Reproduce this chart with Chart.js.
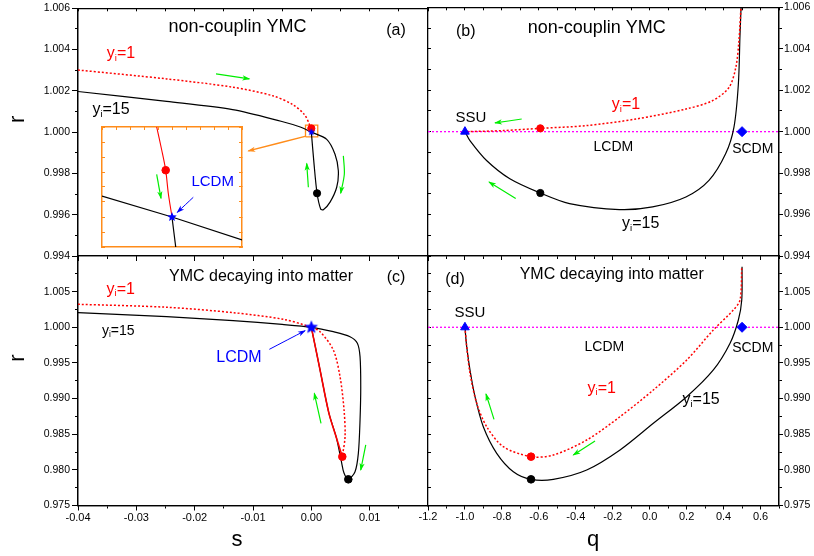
<!DOCTYPE html>
<html>
<head>
<meta charset="utf-8">
<script src="https://cdn.jsdelivr.net/npm/chart.js@4.4.1/dist/chart.umd.min.js"></script>
<style>
  html, body { margin: 0; padding: 0; background: #fff; }
  #wrap { position: relative; width: 814px; height: 556px; }
  #wrap canvas { position: absolute; left: 0; top: 0; }
</style>
</head>
<body>
<div id="wrap">
  <canvas id="cA" width="814" height="556"></canvas>
  <canvas id="cB" width="814" height="556"></canvas>
  <canvas id="cC" width="814" height="556"></canvas>
  <canvas id="cD" width="814" height="556"></canvas>
  <canvas id="cIn" width="814" height="556"></canvas>
</div>
<script>
// ---- panel (a): s vs r, non-coupling ----
const aRedS = [-0.04, -0.0248, -0.0135, -0.0066, -0.0032, -0.0012, -0.0003, 0];
const aRedR = [1.00301, 1.00258, 1.00218, 1.00176, 1.00134, 1.00086, 1.00035, 1.0];
const aBlkS = [-0.04, -0.0248, -0.0135, -0.0052, -0.0019, 0, 0.00264, 0.00406, 0.00463, 0.00435, 0.00321, 0.00206, 0.0016, 0.00098, 0.00045, 0];
const aBlkR = [1.00197, 1.00149, 1.00109, 1.00053, 1.00025, 1.0, 0.99965, 0.99893, 0.99813, 0.99733, 0.99661, 0.99624, 0.99628, 0.99704, 0.9985, 1.0];
const aDotRed = [0, 1.00018];
const aDotBlk = [0.00098, 0.99704];
const aStar = [0, 1.0];
const aBoxS = [-0.001, 0.0011, 0.0011, -0.001, -0.001];
const aBoxR = [0.99977, 0.99977, 1.00034, 1.00034, 0.99977];
const aArrows = [
  [[-0.01634, 1.00282], [-0.01063, 1.00258]],
  [[-0.00051, 0.99733], [-0.00079, 0.99848]],
  [[0.00549, 0.99885], [0.00566, 0.99797], [0.00504, 0.99704]]
];
const aZoomArrow = [[-0.00091, 0.99981], [-0.0108, 0.99909]];

// ---- inset of (a) ----
const inRedS = [-0.000219, -0.000147, -0.00009, -0.000053, 0];
const inRedR = [1.00045, 1.000335, 1.000234, 1.000119, 1.0];
const inBlkS = [-0.001, 0, 0.001];
const inBlkR = [1.000105, 1.0, 0.999885];
const inStemS = [0, 0.000053];
const inStemR = [1.0, 0.99985];
const inDotRed = [-0.00009, 1.000234];
const inStar = [0, 1.0];
const inArrowGreen = [[-0.000219, 1.0002135], [-0.000157, 1.0000935]];
const inArrowBlue = [[0.000304, 1.0000985], [0.0000757, 1.0000235]];

// ---- panel (b): q vs r, non-coupling ----
const bBlkQ = [0.497, 0.489, 0.48, 0.456, 0.411, 0.321, 0.196, 0.0157, -0.164, -0.434, -0.592, -0.757, -0.883, -0.973, -1.0];
const bBlkR = [1.0065, 1.00469, 1.00229, 1.00021, 0.99893, 0.99765, 0.99685, 0.99637, 0.99624, 0.99653, 0.99704, 0.99773, 0.99861, 0.99957, 1.0];
const bRedQ = [0.497, 0.483, 0.466, 0.429, 0.339, 0.196, -0.074, -0.344, -0.592, -0.793, -1.0];
const bRedR = [1.0065, 1.00437, 1.00309, 1.00213, 1.00149, 1.00109, 1.00061, 1.00029, 1.00016, 1.00005, 1.0];
const bDotRed = [-0.592, 1.00016];
const bDotBlk = [-0.592, 0.99704];
const bArrows = [
  [[-0.6927, 1.00061], [-0.8372, 1.00042]],
  [[-0.7252, 0.99677], [-0.8697, 0.99757]]
];

// ---- panel (c): s vs r, decaying into matter ----
const cRedS = [-0.04, -0.0248, -0.0134, -0.0048, 0, 0.00149, 0.00377, 0.00492, 0.00561, 0.00578, 0.00531];
const cRedR = [1.00323, 1.00281, 1.00205, 1.00112, 1.0, 0.99938, 0.99682, 0.99307, 0.9884, 0.98465, 0.98185];
const cRedBackS = [0.00531, 0.0043, 0.003, 0.0015, 0];
const cRedBackR = [0.98185, 0.9845, 0.988, 0.994, 1.0];
const cBlkS = [-0.04, -0.0248, -0.0134, -0.005, 0, 0.00377, 0.00663, 0.00789, 0.00835, 0.00847, 0.00835, 0.00806, 0.00749, 0.00634, 0.0056, 0.00515, 0.0043, 0.003, 0.0015, 0];
const cBlkR = [1.00205, 1.00149, 1.00093, 1.0004, 1.0, 0.99938, 0.99868, 0.99776, 0.99588, 0.99167, 0.98699, 0.98232, 0.97974, 0.97867, 0.97955, 0.9812, 0.9845, 0.988, 0.994, 1.0];
const cStar = [0, 1.0];
const cDotRed = [0.00531, 0.98185];
const cDotBlk = [0.00634, 0.97867];
const cArrows = [
  [[0.00166, 0.98653], [0.00051, 0.99074]],
  [[0.00933, 0.98349], [0.00847, 0.97998]]
];
const cBlueArrow = [[-0.0072, 0.99691], [-0.00108, 0.99952]];

// ---- panel (d): q vs r, decaying into matter ----
const dBlkQ = [-1.0, -0.9905, -0.9726, -0.9455, -0.9006, -0.828, -0.738, -0.6423, -0.5216, -0.3408, -0.1605, 0.0198, 0.2006, 0.3447, 0.4351, 0.48, 0.4984, 0.5];
const dBlkR = [1.0, 0.99728, 0.99401, 0.99026, 0.98605, 0.98232, 0.97974, 0.97867, 0.97867, 0.97998, 0.98279, 0.98653, 0.99026, 0.99401, 0.99776, 1.00102, 1.00383, 1.0085];
const dRedQ = [-1.0, -0.9905, -0.9726, -0.9363, -0.8822, -0.7923, -0.6423, -0.5216, -0.3408, -0.1605, 0.0198, 0.2006, 0.3447, 0.453, 0.4892, 0.4985];
const dRedR = [1.0, 0.9973, 0.99355, 0.98934, 0.98605, 0.98325, 0.98185, 0.98208, 0.98419, 0.98746, 0.9912, 0.99541, 0.99962, 1.00243, 1.00383, 1.0085];
const dDotRed = [-0.6423, 0.98185];
const dDotBlk = [-0.6423, 0.97867];
const dArrows = [
  [[-0.8427, 0.98709], [-0.886, 0.99064]],
  [[-0.2958, 0.98405], [-0.4133, 0.98208]]
];

// fixed points and the r = 1 line (b, d)
const ssuPt = [-1.0, 1.0];
const scdmPt = [0.5, 1.0];
const refQ = [-1.2, 0.7];
const refR = [1.0, 1.0];

const FONT = "'Liberation Sans', Arial, Helvetica, sans-serif";
const RED = '#ff0000', BLUE = '#0000ff', GREEN = '#00ee00', ORANGE = '#ff8c1a', MAGENTA = '#ff00ff';

Chart.defaults.font.family = FONT;

function pts(xs, ys) { return xs.map((x, i) => ({ x, y: ys[i] })); }

function curve(xs, ys, color, extra) {
  return Object.assign({
    data: pts(xs, ys), showLine: true, borderColor: color, borderWidth: 1.2,
    pointRadius: 0, tension: 0.3, fill: false
  }, extra || {});
}
const dotted = { borderDash: [2, 2], borderWidth: 1.5 };
const refStyle = { borderDash: [2, 2], borderWidth: 1.3, tension: 0 };

function mark(p, style, color, r) {
  return {
    data: [{ x: p[0], y: p[1] }], showLine: false, pointStyle: style, pointRadius: r,
    pointBackgroundColor: color, pointBorderColor: color, pointBorderWidth: 1
  };
}

function arrowSet(seg, color, w) {
  return {
    data: seg.map(p => ({ x: p[0], y: p[1] })), showLine: true, borderColor: color,
    borderWidth: w || 1.2, pointRadius: 0, tension: 0.3, arrowHead: true
  };
}

function starImg(r, color) {
  const c = document.createElement('canvas');
  c.width = c.height = 2 * r + 2;
  const g = c.getContext('2d');
  g.fillStyle = color;
  g.beginPath();
  for (let i = 0; i < 10; i++) {
    const a = -Math.PI / 2 + i * Math.PI / 5;
    const rr = i % 2 ? r * 0.45 : r;
    g.lineTo(r + 1 + rr * Math.cos(a), r + 1 + rr * Math.sin(a));
  }
  g.closePath();
  g.fill();
  return c;
}

// text with "_x" subscripts
function drawRich(ctx, str, x, y, size, color, rot) {
  const parts = [];
  str.split(/(_.)/).forEach(p => {
    if (!p) return;
    if (p[0] === '_' && p.length === 2) parts.push({ t: p[1], sub: true });
    else parts.push({ t: p, sub: false });
  });
  ctx.save();
  ctx.translate(x, y);
  if (rot) ctx.rotate(rot);
  ctx.fillStyle = color;
  ctx.textBaseline = 'middle';
  ctx.textAlign = 'left';
  const fnt = s => s + 'px ' + FONT;
  let w = 0;
  parts.forEach(p => { ctx.font = fnt(p.sub ? size * 0.6 : size); p.w = ctx.measureText(p.t).width; w += p.w; });
  let cx = -w / 2;
  parts.forEach(p => {
    ctx.font = fnt(p.sub ? size * 0.6 : size);
    ctx.fillText(p.t, cx, p.sub ? size * 0.28 : 0);
    cx += p.w;
  });
  ctx.restore();
}

function textPlugin(items) {
  return {
    id: 'texts',
    afterDraw(chart) {
      const xs = chart.scales.x, ys = chart.scales.y;
      items.forEach(it => drawRich(chart.ctx, it.t, xs.getPixelForValue(it.x), ys.getPixelForValue(it.y),
        it.size, it.color || '#000', it.rot || 0));
    }
  };
}

Chart.register({
  id: 'arrowHeads',
  afterDatasetsDraw(chart) {
    const ctx = chart.ctx;
    chart.data.datasets.forEach((ds, i) => {
      if (!ds.arrowHead) return;
      const el = chart.getDatasetMeta(i).data;
      const a = el[el.length - 2], b = el[el.length - 1];
      const ang = Math.atan2(b.y - a.y, b.x - a.x);
      const L = 7, W = 2.6;
      ctx.save();
      ctx.translate(b.x, b.y);
      ctx.rotate(ang);
      ctx.fillStyle = ds.borderColor;
      ctx.beginPath();
      ctx.moveTo(1, 0);
      ctx.lineTo(-L, -W);
      ctx.lineTo(-L * 0.7, 0);
      ctx.lineTo(-L, W);
      ctx.closePath();
      ctx.fill();
      ctx.restore();
    });
  }
});

// tick values min, min+step, ... up to max (no float surprises)
function tickList(min, max, step) {
  const n = Math.floor((max - min) / step + 1e-6);
  const out = [];
  for (let i = 0; i <= n; i++) out.push({ value: +(min + i * step).toFixed(8) });
  return out;
}

function axis(pos, min, max, step, o) {
  const horiz = pos === 'top' || pos === 'bottom';
  const col = o.color || '#000';
  return {
    type: 'linear', position: pos, min, max, weight: o.weight || 0,
    ticks: {
      stepSize: step, display: !!o.fmt, callback: o.fmt || (() => ''),
      autoSkip: false, maxRotation: 0, minRotation: 0,
      padding: o.pad == null ? 2 : o.pad,
      color: '#000', font: { family: FONT, size: o.fs || 10.5 }
    },
    grid: { drawOnChartArea: false, drawTicks: !!o.tl, tickLength: o.tl || 0, tickColor: col, tickWidth: 1 },
    border: { display: true, color: col, width: o.bw || 1.3 },
    afterBuildTicks: s => { s.ticks = tickList(min, max, step); },
    afterFit: s => { if (horiz) s.height = o.size || 0; else s.width = o.size || 0; }
  };
}

const fmt3 = v => v.toFixed(3);
const fmtBotY = v => (v > 1.0076 ? '' : v.toFixed(3));
const fmtS = v => (v > 0.015 ? '' : (Math.abs(v) < 1e-9 ? '0.00' : v.toFixed(2)));
const fmtQ = v => (v > 0.65 ? '' : (Math.abs(v) < 1e-9 ? '0.0' : v.toFixed(1)));

function makeChart(id, pad, scales, datasets, texts) {
  return new Chart(document.getElementById(id), {
    type: 'scatter',
    data: { datasets },
    options: {
      responsive: false, animation: false, events: [],
      layout: { padding: pad },
      plugins: { legend: { display: false }, tooltip: { enabled: false } },
      scales
    },
    plugins: [textPlugin(texts)]
  });
}

const rotR = -Math.PI / 2;

// (a)
makeChart('cA', { left: 0, top: 6, right: 386, bottom: 294 }, {
  x: axis('bottom', -0.04, 0.02, 0.01, { tl: 5, size: 6, weight: 1 }),
  xm: axis('bottom', -0.04, 0.02, 0.005, { tl: 3 }),
  xt: axis('top', -0.04, 0.02, 0.005, { tl: -3 }),
  y: axis('left', 0.994, 1.006, 0.002, { tl: 6, size: 78, weight: 1, fmt: fmt3 }),
  ym: axis('left', 0.994, 1.006, 0.001, { tl: 3 })
}, [
  mark(aStar, starImg(4, BLUE), BLUE, 4),
  mark(aDotRed, 'circle', RED, 3.6),
  mark(aDotBlk, 'circle', '#000', 3.6),
  curve(aRedS, aRedR, RED, dotted),
  curve(aBlkS, aBlkR, '#000'),
  curve(aBoxS, aBoxR, ORANGE, { tension: 0, borderWidth: 1.3 }),
  arrowSet(aZoomArrow, ORANGE, 1.3),
  ...aArrows.map(s => arrowSet(s, GREEN))
], [
  { t: 'non-couplin YMC', x: -0.01265, y: 1.00509, size: 18 },
  { t: '(a)', x: 0.01452, y: 1.00494, size: 16 },
  { t: 'y_i=1', x: -0.03262, y: 1.00379, size: 16, color: RED },
  { t: 'y_i=15', x: -0.03434, y: 1.0011, size: 16 },
  { t: 'r', x: -0.05028, y: 1.00062, size: 22, rot: rotR }
]);

// (b)
makeChart('cB', { left: 428, top: 6, right: 0, bottom: 294 }, {
  x: axis('bottom', -1.2, 0.7, 0.2, { tl: 4, size: 6, weight: 1 }),
  xm: axis('bottom', -1.2, 0.7, 0.1, { tl: 3 }),
  xt: axis('top', -1.2, 0.7, 0.1, { tl: -3 }),
  y: axis('right', 0.994, 1.006, 0.002, { tl: 4, size: 35, weight: 1, fmt: fmt3, pad: 1 }),
  ym: axis('right', 0.994, 1.006, 0.001, { tl: 3 }),
  yl: axis('left', 0.994, 1.006, 0.001, { tl: -3 })
}, [
  mark(ssuPt, 'triangle', BLUE, 5),
  mark(scdmPt, 'rectRot', BLUE, 5),
  mark(bDotRed, 'circle', RED, 3.6),
  mark(bDotBlk, 'circle', '#000', 3.6),
  curve(bRedQ, bRedR, RED, dotted),
  curve(bBlkQ, bBlkR, '#000'),
  curve(refQ, refR, MAGENTA, refStyle),
  ...bArrows.map(s => arrowSet(s, GREEN))
], [
  { t: '(b)', x: -0.996, y: 1.00485, size: 16 },
  { t: 'non-couplin YMC', x: -0.2866, y: 1.00501, size: 18 },
  { t: 'SSU', x: -0.9683, y: 1.00067, size: 15 },
  { t: 'LCDM', x: -0.1967, y: 0.99925, size: 14 },
  { t: 'SCDM', x: 0.558, y: 0.99914, size: 14 },
  { t: 'y_i=1', x: -0.128, y: 1.0013, size: 16, color: RED },
  { t: 'y_i=15', x: -0.0484, y: 0.99554, size: 16 }
]);

// (c)
makeChart('cC', { left: 0, top: 256, right: 386, bottom: 20.5 }, {
  x: axis('bottom', -0.04, 0.02, 0.01, { tl: 5, size: 30, weight: 1, fmt: fmtS, fs: 11, pad: 1 }),
  xm: axis('bottom', -0.04, 0.02, 0.005, { tl: 3 }),
  y: axis('left', 0.975, 1.010, 0.005, { tl: 6, size: 78, weight: 1, fmt: fmtBotY }),
  ym: axis('left', 0.975, 1.010, 0.0025, { tl: 3 })
}, [
  mark(cStar, starImg(7, BLUE), BLUE, 7),
  mark(cDotRed, 'circle', RED, 3.8),
  mark(cDotBlk, 'circle', '#000', 3.8),
  curve(cRedBackS, cRedBackR, RED, { borderWidth: 1.6 }),
  curve(cRedS, cRedR, RED, dotted),
  curve(cBlkS, cBlkR, '#000'),
  arrowSet(cBlueArrow, BLUE, 1),
  ...cArrows.map(s => arrowSet(s, GREEN))
], [
  { t: 'YMC decaying into matter', x: -0.00862, y: 1.0071, size: 16 },
  { t: '(c)', x: 0.01452, y: 1.00692, size: 16 },
  { t: 'y_i=1', x: -0.03268, y: 1.00533, size: 16, color: RED },
  { t: 'y_i=15', x: -0.03309, y: 0.99952, size: 14 },
  { t: 'LCDM', x: -0.0124, y: 0.99579, size: 16, color: BLUE },
  { t: 's', x: -0.01274, y: 0.97016, size: 22 },
  { t: 'r', x: -0.05028, y: 0.99569, size: 22, rot: rotR }
]);

// (d)
makeChart('cD', { left: 428, top: 256, right: 0, bottom: 20.5 }, {
  x: axis('bottom', -1.2, 0.7, 0.2, { tl: 4, size: 30, weight: 1, fmt: fmtQ, fs: 11, pad: 1 }),
  xm: axis('bottom', -1.2, 0.7, 0.1, { tl: 3 }),
  y: axis('right', 0.975, 1.010, 0.005, { tl: 4, size: 35, weight: 1, fmt: fmtBotY, pad: 1 }),
  ym: axis('right', 0.975, 1.010, 0.0025, { tl: 3 }),
  yl: axis('left', 0.975, 1.010, 0.0025, { tl: -3 })
}, [
  mark(ssuPt, 'triangle', BLUE, 5),
  mark(scdmPt, 'rectRot', BLUE, 5),
  mark(dDotRed, 'circle', RED, 3.8),
  mark(dDotBlk, 'circle', '#000', 3.8),
  curve(dRedQ, dRedR, RED, dotted),
  curve(dBlkQ, dBlkR, '#000'),
  curve(refQ, refR, MAGENTA, refStyle),
  ...dArrows.map(s => arrowSet(s, GREEN))
], [
  { t: '(d)', x: -1.0538, y: 1.00664, size: 16 },
  { t: 'YMC decaying into matter', x: -0.2054, y: 1.00734, size: 16 },
  { t: 'SSU', x: -0.9726, y: 1.00205, size: 15 },
  { t: 'LCDM', x: -0.2455, y: 0.99728, size: 14 },
  { t: 'SCDM', x: 0.558, y: 0.99705, size: 14 },
  { t: 'y_i=1', x: -0.2596, y: 0.99144, size: 16, color: RED },
  { t: 'y_i=15', x: 0.278, y: 0.9898, size: 16 },
  { t: 'q', x: -0.3067, y: 0.97016, size: 22 }
]);

// inset of (a)
makeChart('cIn', { left: 102, top: 127, right: 572, bottom: 309 }, {
  x: axis('bottom', -0.001, 0.001, 0.0002, { color: ORANGE, bw: 1.5 }),
  xt: axis('top', -0.001, 0.001, 0.0002, { tl: -3, color: ORANGE, bw: 1.5 }),
  y: axis('left', 0.99985, 1.00045, 0.000075, { tl: -3, color: ORANGE, bw: 1.5 }),
  yr: axis('right', 0.99985, 1.00045, 0.000075, { tl: -3, color: ORANGE, bw: 1.5 })
}, [
  mark(inStar, starImg(5, BLUE), BLUE, 5),
  mark(inDotRed, 'circle', RED, 3.8),
  curve(inRedS, inRedR, RED, { borderWidth: 1.1 }),
  curve(inBlkS, inBlkR, '#000', { tension: 0 }),
  curve(inStemS, inStemR, '#000', { tension: 0 }),
  arrowSet(inArrowGreen, GREEN),
  arrowSet(inArrowBlue, BLUE, 1)
], [
  { t: 'LCDM', x: 0.000581, y: 1.000174, size: 15, color: BLUE }
]);
</script>
</body>
</html>
